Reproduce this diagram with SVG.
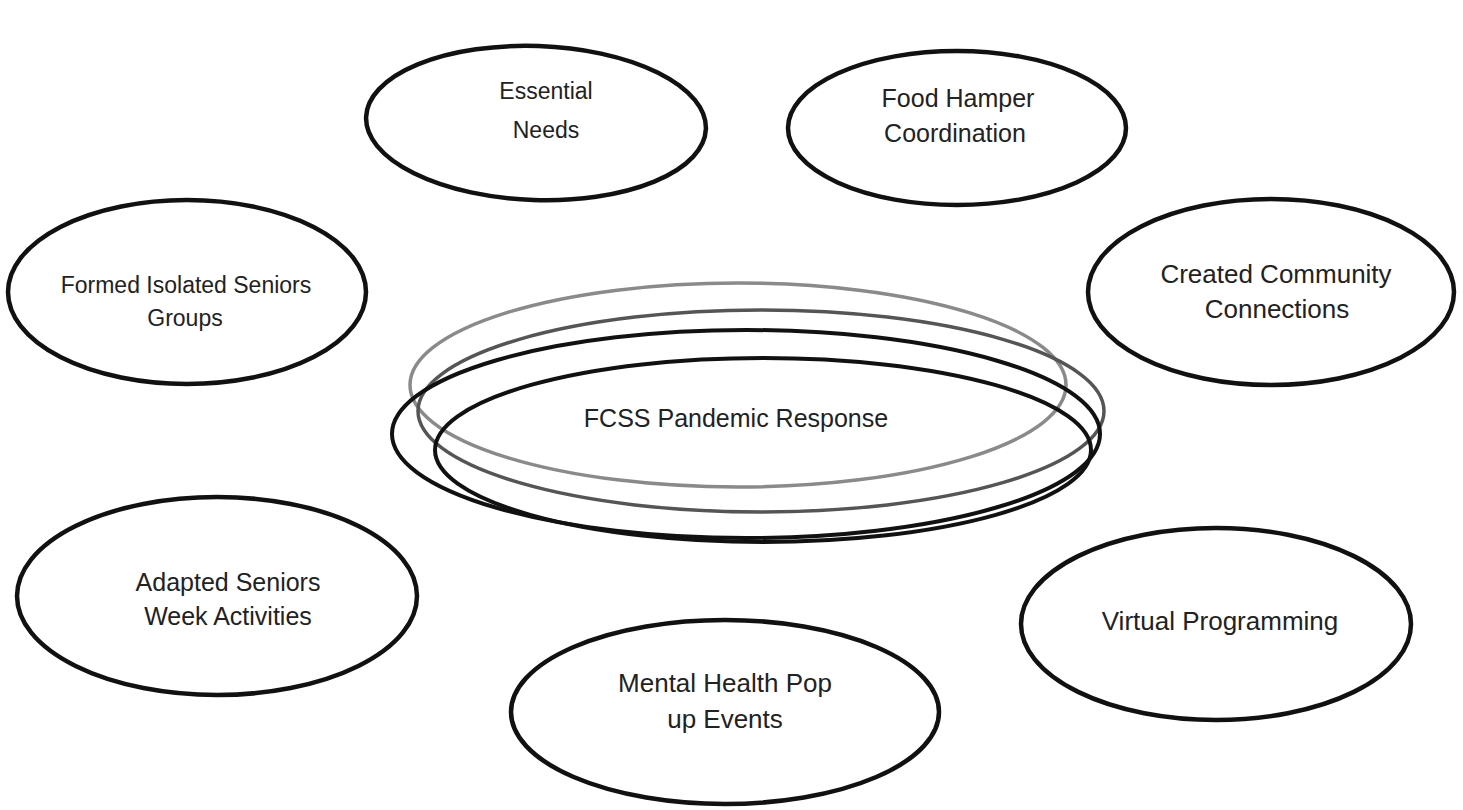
<svg xmlns="http://www.w3.org/2000/svg" width="1463" height="810" viewBox="0 0 1463 810">
<style>
.n{fill:none;stroke:#111;stroke-width:4.5}
.c1{fill:none;stroke:#8a8a8a;stroke-width:3.5}
.c2{fill:none;stroke:#555;stroke-width:3.5}
.c3{fill:none;stroke:#111;stroke-width:4}
text{font-family:"Liberation Sans",Arial,sans-serif;font-size:25px;fill:#222;text-anchor:middle}
</style>
<rect width="1463" height="810" fill="#fff"/>
<g id="essential-needs"><ellipse class="n" cx="536" cy="123" rx="170" ry="77" transform="rotate(2 536 123)"/><text x="546" y="99" style="font-size:23px">Essential</text><text x="546" y="138" style="font-size:23px">Needs</text></g>
<g id="food-hamper"><ellipse class="n" cx="957" cy="128" rx="169" ry="77"/><text x="958" y="107">Food Hamper</text><text x="955" y="142">Coordination</text></g>
<g id="isolated-seniors"><ellipse class="n" cx="187" cy="292" rx="179" ry="92"/><text x="186" y="293" style="font-size:23px">Formed Isolated Seniors</text><text x="185" y="326" style="font-size:23px">Groups</text></g>
<g id="community-connections"><ellipse class="n" cx="1271" cy="292" rx="183" ry="93"/><text x="1276" y="283" style="font-size:26px">Created Community</text><text x="1277" y="318" style="font-size:26px">Connections</text></g>
<g id="seniors-week"><ellipse class="n" cx="217" cy="596" rx="200" ry="99"/><text x="228" y="591">Adapted Seniors</text><text x="228" y="625">Week Activities</text></g>
<g id="virtual-programming"><ellipse class="n" cx="1216" cy="624" rx="195" ry="96"/><text x="1220" y="630" style="font-size:26px">Virtual Programming</text></g>
<g id="mental-health"><ellipse class="n" cx="725" cy="712" rx="214" ry="92"/><text x="725" y="692" style="font-size:26px">Mental Health Pop</text><text x="725" y="728" style="font-size:26px">up Events</text></g>
<g id="fcss-center">
<ellipse class="c1" cx="738" cy="385" rx="328" ry="102"/>
<ellipse class="c2" cx="761" cy="411" rx="343" ry="101"/>
<ellipse class="c3" cx="746" cy="434" rx="354" ry="104"/>
<ellipse class="c3" cx="763" cy="450" rx="328" ry="92"/>
<text x="736" y="427">FCSS Pandemic Response</text>
</g>
<g id="connectors"/>
<text x="728" y="822" style="font-size:16px">10</text>
</svg>
